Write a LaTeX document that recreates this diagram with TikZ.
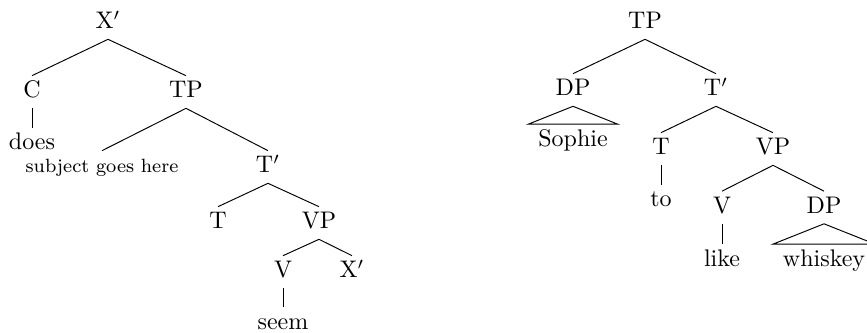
\documentclass[tikz,border=0pt]{standalone}
\begin{document}
\begin{tikzpicture}[x=0.41667pt, y=-0.41667pt,
  lab/.style={inner sep=2.1pt, text height=7pt, text depth=2pt, anchor=base},
  trileaf/.style={lab, inner xsep=4pt},
  small/.style={lab, font=\footnotesize}]
\useasboundingbox (0,0) rectangle (867,333);
% left tree
\node[lab] (xb) at (108,29) {X$'$};
\node[lab] (c) at (32,98) {C};
\node[lab] (tp) at (186,98) {TP};
\node[lab] (does) at (32,150) {does};
\node[small] (subj) at (102,173) {subject goes here};
\node[lab] (tb) at (268,173) {T$'$};
\node[lab] (t) at (218,229) {T};
\node[lab] (vp) at (319,229) {VP};
\node[lab] (v) at (283,278) {V};
\node[lab] (xb2) at (352,278) {X$'$};
\node[lab] (seem) at (283,329) {seem};
\draw (xb.south) -- (c.north);
\draw (xb.south) -- (tp.north);
\draw (c.south) -- (does.north);
\draw (tp.south) -- (subj.north);
\draw (tp.south) -- (tb.north);
\draw (tb.south) -- (t.north);
\draw (tb.south) -- (vp.north);
\draw (vp.south) -- (v.north);
\draw (vp.south) -- (xb2.north);
\draw (v.south) -- (seem.north);
% right tree
\node[lab] (rtp) at (645,29) {TP};
\node[lab] (rdp) at (573,96) {DP};
\node[lab] (rtb) at (716,96) {T$'$};
\node[trileaf] (sophie) at (573,146.5) {Sophie};
\node[lab] (rt) at (661,155) {T};
\node[lab] (rvp) at (773,155) {VP};
\node[lab] (to) at (661,207) {to};
\node[lab] (rv) at (722,213.5) {V};
\node[lab] (rdp2) at (824,213.5) {DP};
\node[lab] (like) at (722,266.5) {like};
\node[trileaf] (whiskey) at (824,266.5) {whiskey};
\draw (rtp.south) -- (rdp.north);
\draw (rtp.south) -- (rtb.north);
\draw (rdp.south) -- (sophie.north west) -- (sophie.north east) -- cycle;
\draw (rtb.south) -- (rt.north);
\draw (rtb.south) -- (rvp.north);
\draw (rt.south) -- (to.north);
\draw (rvp.south) -- (rv.north);
\draw (rvp.south) -- (rdp2.north);
\draw (rv.south) -- (like.north);
\draw (rdp2.south) -- (whiskey.north west) -- (whiskey.north east) -- cycle;
\end{tikzpicture}
\end{document}
